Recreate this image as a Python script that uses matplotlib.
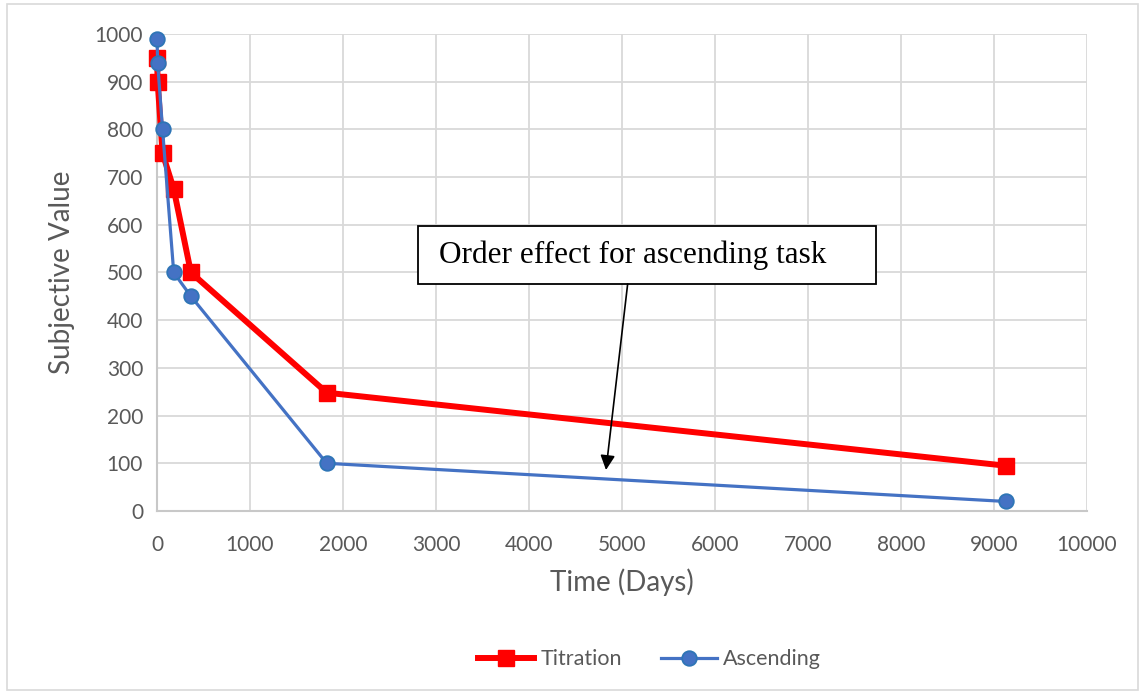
# subjective value vs delay, titration vs ascending
import matplotlib.pyplot as plt
from matplotlib.patches import Rectangle

days = [1, 7, 60, 180, 365, 1825, 9125]
titration = [950, 900, 750, 675, 500, 248, 95]
ascending = [990, 940, 800, 500, 450, 100, 20]

xticks = list(range(0, 10001, 1000))
yticks = list(range(0, 1001, 100))

grey_txt = '#595959'
plt.rcParams['font.family'] = ['Lato', 'DejaVu Sans']

fig = plt.figure(figsize=(11.4, 6.94), dpi=100)
ax = fig.add_axes([0.1377, 0.2637, 0.8158, 0.6873])

# outer chart border
fig.patches.append(Rectangle((0.006, 0.006), 0.992, 0.988, transform=fig.transFigure,
                             fill=False, edgecolor='#d9d9d9', linewidth=1.2))

ax.plot(days, titration, color='#ff0000', lw=4.3, marker='s', ms=11,
        mfc='#ff0000', mec='#ff0000', label='Titration', zorder=3, clip_on=False)
ax.plot(days, ascending, color='#4472c4', lw=2.3, marker='o', ms=10.5,
        mfc='#4472c4', mec='#2e75b6', mew=1.3, label='Ascending', zorder=4, clip_on=False)

ax.set_xlim(0, 10000)
ax.set_ylim(0, 1000)
ax.set_xticks(xticks)
ax.set_yticks(yticks)
ax.tick_params(colors=grey_txt, labelsize=15, length=0)
ax.tick_params(axis='x', pad=17)
ax.tick_params(axis='y', pad=10)
ax.grid(True, color='#d9d9d9', linewidth=1.3)
ax.set_axisbelow(True)
for s in ['top', 'right']:
    ax.spines[s].set_visible(False)
for s in ['left', 'bottom']:
    ax.spines[s].set_color('#c8c8c8')
    ax.spines[s].set_linewidth(1.5)

ax.set_xlabel('Time (Days)', fontsize=20, color=grey_txt, labelpad=10)
ax.set_ylabel('Subjective Value', fontsize=20, color=grey_txt, labelpad=14)

# annotation box + arrow
ax.add_patch(Rectangle((2806, 476), 4925, 121.5, facecolor='white',
                       edgecolor='black', linewidth=1.3, zorder=5))
ax.text(3032, 537, 'Order effect for ascending task', fontsize=22.5,
        family='Liberation Serif', va='center', ha='left', zorder=6)
ax.annotate('', xy=(4828, 86), xytext=(5061, 476),
            arrowprops=dict(arrowstyle='-|>', color='black', lw=1.2,
                            mutation_scale=22, shrinkA=0, shrinkB=0), zorder=6)

fig.legend(loc='center', bbox_to_anchor=(0.57, 0.05), ncol=2, frameon=False,
           fontsize=15.5, labelcolor=grey_txt, handlelength=2.6, columnspacing=1.8,
           handletextpad=0.3)

fig.savefig('out.png', dpi=100)
